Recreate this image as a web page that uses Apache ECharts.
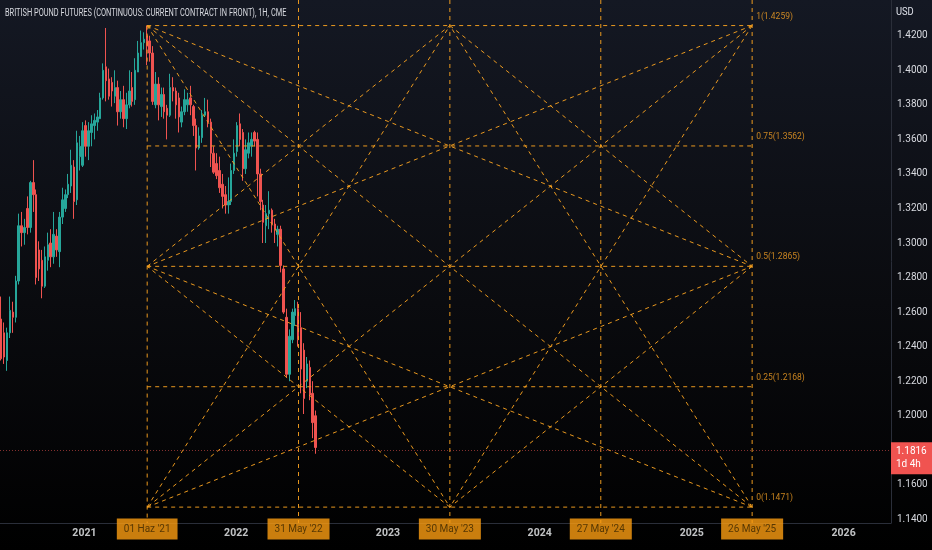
<!DOCTYPE html>
<html>
<head>
<meta charset="utf-8">
<script src="https://cdn.jsdelivr.net/npm/echarts@6/dist/echarts.min.js"></script>
<style>
html,body{margin:0;padding:0;background:#000;}
#c{width:932px;height:550px;}
</style>
</head>
<body>
<div id="c"></div>
<script>
// ---------- DATA ----------
const weeks = [
'2020-06-15','2020-06-22','2020-06-29','2020-07-06','2020-07-13','2020-07-20','2020-07-27','2020-08-03','2020-08-10','2020-08-17',
'2020-08-24','2020-08-31','2020-09-07','2020-09-14','2020-09-21','2020-09-28','2020-10-05','2020-10-12','2020-10-19','2020-10-26',
'2020-11-02','2020-11-09','2020-11-16','2020-11-23','2020-11-30','2020-12-07','2020-12-14','2020-12-21','2020-12-28',
'2021-01-04','2021-01-11','2021-01-18','2021-01-25','2021-02-01','2021-02-08','2021-02-15','2021-02-22','2021-03-01','2021-03-08',
'2021-03-15','2021-03-22','2021-03-29','2021-04-05','2021-04-12','2021-04-19','2021-04-26','2021-05-03','2021-05-10','2021-05-17',
'2021-05-24','2021-05-31','2021-06-07','2021-06-14','2021-06-21','2021-06-28','2021-07-05','2021-07-12','2021-07-19','2021-07-26',
'2021-08-02','2021-08-09','2021-08-16','2021-08-23','2021-08-30','2021-09-06','2021-09-13','2021-09-20','2021-09-27','2021-10-04',
'2021-10-11','2021-10-18','2021-10-25','2021-11-01','2021-11-08','2021-11-15','2021-11-22','2021-11-29','2021-12-06','2021-12-13',
'2021-12-20','2021-12-27',
'2022-01-03','2022-01-10','2022-01-17','2022-01-24','2022-01-31','2022-02-07','2022-02-14','2022-02-21','2022-02-28','2022-03-07',
'2022-03-14','2022-03-21','2022-03-28','2022-04-04','2022-04-11','2022-04-18','2022-04-25','2022-05-02','2022-05-09','2022-05-16',
'2022-05-23','2022-05-30','2022-06-06','2022-06-13','2022-06-20','2022-06-27','2022-07-04','2022-07-11'
];
const openP = [
1.2560,1.2480,1.2320,1.2480,1.2600,1.2570,1.2780,1.3100,1.3060,1.3200,
1.3090,1.3350,1.3280,1.2960,1.2900,1.2750,1.2900,1.3000,1.2920,1.3040,
1.2950,1.3150,1.3200,1.3280,1.3330,1.3440,1.3250,1.3500,1.3450,
1.3680,1.3560,1.3640,1.3680,1.3700,1.3720,1.3840,1.4020,1.3950,1.3930,
1.3850,1.3900,1.3760,1.3830,1.3720,1.3800,1.3900,1.3830,1.3990,1.4080,
1.4160,1.4200,1.4170,1.4100,1.3800,1.3920,1.3790,1.3860,1.3780,1.3740,
1.3900,1.3880,1.3840,1.3700,1.3760,1.3800,1.3840,1.3790,1.3680,1.3550,
1.3610,1.3740,1.3760,1.3700,1.3520,1.3460,1.3420,1.3340,1.3280,1.3220,
1.3240,1.3420,
1.3530,1.3690,1.3640,1.3430,1.3520,1.3560,1.3640,1.3600,1.3400,1.3220,
1.3100,1.3170,1.3190,1.3110,1.3050,1.3080,1.2850,1.2570,1.2240,1.2440,
1.2580,1.2620,1.2510,1.2380,1.2200,1.2280,1.2130,1.2000
];
const closeP = [
1.2330,1.2340,1.2480,1.2610,1.2570,1.2780,1.3100,1.3060,1.3090,1.3090,
1.3350,1.3280,1.2800,1.2850,1.2750,1.2920,1.2990,1.2920,1.3050,1.2960,
1.3150,1.3250,1.3280,1.3340,1.3450,1.3240,1.3580,1.3560,1.3650,
1.3560,1.3650,1.3690,1.3710,1.3730,1.3840,1.4000,1.3940,1.3850,1.3880,
1.3900,1.3760,1.3830,1.3720,1.3800,1.3880,1.3820,1.4000,1.4100,1.4160,
1.4180,1.4140,1.4100,1.3820,1.3920,1.3800,1.3860,1.3760,1.3740,1.3900,
1.3880,1.3800,1.3730,1.3760,1.3830,1.3830,1.3800,1.3680,1.3550,1.3620,
1.3740,1.3760,1.3700,1.3520,1.3410,1.3390,1.3320,1.3270,1.3220,1.3240,
1.3420,1.3520,
1.3680,1.3600,1.3430,1.3540,1.3580,1.3600,1.3590,1.3400,1.3240,1.3120,
1.3170,1.3190,1.3110,1.3080,1.3080,1.2870,1.2600,1.2240,1.2460,1.2600,
1.2620,1.2440,1.2270,1.2100,1.2300,1.2120,1.1960,1.1816
];
const lowP = [
1.2320,1.2300,1.2260,1.2450,1.2480,1.2540,1.2760,1.2980,1.2990,1.3050,
1.3060,1.3180,1.2760,1.2780,1.2680,1.2740,1.2840,1.2860,1.2880,1.2920,
1.2860,1.3110,1.3180,1.3260,1.3290,1.3140,1.3220,1.3420,1.3440,
1.3500,1.3480,1.3560,1.3600,1.3650,1.3720,1.3830,1.3820,1.3830,1.3790,
1.3810,1.3680,1.3720,1.3670,1.3660,1.3780,1.3790,1.3800,1.3990,1.4080,
1.4120,1.4030,1.4050,1.3800,1.3780,1.3710,1.3730,1.3720,1.3600,1.3730,
1.3820,1.3720,1.3640,1.3670,1.3740,1.3760,1.3740,1.3620,1.3420,1.3540,
1.3580,1.3730,1.3670,1.3440,1.3400,1.3370,1.3290,1.3200,1.3170,1.3170,
1.3220,1.3400,
1.3500,1.3560,1.3360,1.3400,1.3490,1.3500,1.3560,1.3270,1.3190,1.3000,
1.3000,1.3080,1.3060,1.3000,1.2980,1.2830,1.2590,1.2220,1.2200,1.2420,
1.2520,1.2400,1.2130,1.2010,1.2160,1.2090,1.1870,1.1780
];
const highP = [
1.2690,1.2540,1.2510,1.2690,1.2660,1.2810,1.3170,1.3180,1.3140,1.3270,
1.3360,1.3480,1.3310,1.3010,1.2960,1.2980,1.3060,1.3080,1.3180,1.3080,
1.3180,1.3320,1.3310,1.3400,1.3540,1.3480,1.3650,1.3620,1.3700,
1.3710,1.3700,1.3740,1.3750,1.3770,1.3870,1.4040,1.4245,1.4010,1.3960,
1.4000,1.3940,1.3880,1.3910,1.3870,1.4000,1.3990,1.4070,1.4170,1.4230,
1.4220,1.4259,1.4200,1.4140,1.3990,1.3960,1.3900,1.3900,1.3800,1.3980,
1.3960,1.3900,1.3870,1.3790,1.3890,1.3870,1.3910,1.3800,1.3720,1.3670,
1.3770,1.3840,1.3830,1.3720,1.3560,1.3520,1.3500,1.3400,1.3330,1.3380,
1.3460,1.3600,
1.3700,1.3750,1.3660,1.3600,1.3640,1.3640,1.3650,1.3640,1.3430,1.3250,
1.3220,1.3300,1.3200,1.3140,1.3100,1.3100,1.2870,1.2620,1.2500,1.2620,
1.2670,1.2660,1.2600,1.2420,1.2340,1.2320,1.2200,1.2030
];
const lastPrice = 1.1816;
const lastPriceText = '1.1816';
const countdownText = '1d 4h';

const yTicks = [1.14,1.16,1.18,1.20,1.22,1.24,1.26,1.28,1.30,1.32,1.34,1.36,1.38,1.40,1.42];
const yearTicks = ['2021-01-01','2022-01-01','2023-01-01','2024-01-01','2025-01-01','2026-01-01'];
const yearLabels = ['2021','2022','2023','2024','2025','2026'];

const gannDates = ['2021-06-01','2022-05-31','2023-05-30','2024-05-27','2025-05-26'];
const gannDateLabels = ["01 Haz '21","31 May '22","30 May '23","27 May '24","26 May '25"];
const gannLevels = [1.1471,1.2168,1.2865,1.3562,1.4259];
const gannRatios = ['0','0.25','0.5','0.75','1'];

const titleText = 'BRITISH POUND FUTURES (CONTINUOUS: CURRENT CONTRACT IN FRONT), 1H, CME';
const currencyText = 'USD';

// ---------- VIEW ----------
const yMin = 1.1379, yMax = 1.4407;
const xMin = '2020-06-12', xMax = '2026-04-25';
const FONT = 'Roboto, "Noto Sans", sans-serif';
const ORANGE = 'rgba(246,160,32,0.95)';

const candleData = weeks.map((d,i)=>[d, openP[i], closeP[i], lowP[i], highP[i]]);

const dashStyle = {color: ORANGE, width: 1, type: [4,4]};
const gannSeries = [];
function seg(p1, p2){
  gannSeries.push({type:'line', data:[p1,p2], symbol:'none', silent:true, animation:false,
    lineStyle: dashStyle, z: 3, clip: false});
}
gannDates.forEach((d,i)=> seg([d, i===0 ? gannLevels[4] : yMax],[d, yMin]));
gannLevels.forEach(lv => seg([gannDates[0], lv],[gannDates[4], lv]));
const fanPairs = [
  [0,4,4,0],[4,4,0,0],
  [0,4,4,2],[0,4,2,0],
  [4,4,0,2],[4,4,2,0],
  [0,0,2,4],[0,0,4,2],
  [4,0,2,4],[4,0,0,2],
  [0,2,2,4],[2,4,4,2],[4,2,2,0],[2,0,0,2]
];
fanPairs.forEach(p => seg([gannDates[p[0]], gannLevels[p[1]]],[gannDates[p[2]], gannLevels[p[3]]]));

const xLabelData = yearTicks.map((d,i)=>({value:[d, yMin], label:{formatter:'{y|' + yearLabels[i] + '}'}}))
  .concat(gannDates.map((d,i)=>({value:[d, yMin], label:{formatter:'{d|' + gannDateLabels[i] + '}'}})));

const chart = echarts.init(document.getElementById('c'), null, {renderer:'canvas'});
chart.setOption({
  animation: false,
  backgroundColor: {type:'linear', x:0, y:0, x2:0, y2:1,
    colorStops:[{offset:0,color:'#141823'},{offset:0.55,color:'#0a0b0f'},{offset:1,color:'#000000'}]},
  textStyle: {fontFamily: FONT},
  graphic: [
    {type:'text', x: 5, y: 8, scaleX: 0.74, z: 10, silent: true,
     style:{text: titleText, fill:'#d8dae0', font: '10px ' + FONT}},
    {type:'text', x: 896, y: 7, scaleX: 0.85, z: 10, silent: true,
     style:{text: currencyText, fill:'#e0e3eb', font: '11px ' + FONT}}
  ],
  grid: {left: 0, right: 41, top: 0, bottom: 27, containLabel: false},
  xAxis: {
    type: 'time', min: xMin, max: xMax,
    axisLine: {show: true, lineStyle: {color: '#2a2e39'}},
    axisTick: {show: false},
    splitLine: {show: false},
    axisLabel: {show: false}
  },
  yAxis: {
    type: 'value', position: 'right', min: yMin, max: yMax, scale: true,
    axisLine: {show: true, lineStyle: {color: '#2a2e39'}},
    axisTick: {show: false},
    splitLine: {show: false},
    axisLabel: {
      customValues: yTicks,
      margin: 6,
      color: '#d8dae0', fontSize: 10, fontFamily: FONT,
      formatter: v => v.toFixed(4)
    }
  },
  series: [
    {
      type: 'candlestick',
      data: candleData,
      encode: {x: 0, y: [1,2,3,4]},
      barWidth: 2,
      itemStyle: {color:'#26a69a', color0:'#ef5350', borderColor:'#26a69a', borderColor0:'#ef5350', borderWidth: 1},
      z: 2,
      markLine: {
        silent: true, symbol: 'none', animation: false,
        lineStyle: {color:'rgba(239,83,80,0.55)', type:[1,2], width: 1},
        data: [{yAxis: lastPrice}],
        label: {
          show: true, position: 'end', distance: 0, offset: [0, 8],
          formatter: lastPriceText + '\n' + countdownText,
          backgroundColor: '#f05350', color: '#ffffff',
          fontSize: 10, lineHeight: 13, padding: [3,3,3,5], width: 33,
          align: 'left', fontFamily: FONT
        }
      }
    },
    ...gannSeries,
    {
      type: 'scatter',
      data: gannLevels.map((lv,i)=>[gannDates[4], lv, i]),
      symbolSize: 0, silent: true, z: 4,
      label: {
        show: true, position: 'right', distance: 4, offset: [0,-9],
        color: '#f5a024', fontSize: 8.5, fontFamily: FONT,
        formatter: p => gannRatios[p.data[2]] + '(' + p.data[1].toFixed(4) + ')'
      }
    },
    {
      type: 'scatter',
      data: xLabelData,
      symbolSize: 0, silent: true, z: 5, clip: false,
      label: {
        show: true, position: 'bottom', distance: 0, align: 'center', verticalAlign: 'top',
        rich: {
          y: {color:'#f0f2f5', fontSize: 10.5, fontWeight:'bold', lineHeight: 12, padding:[8,0,0,0], fontFamily: FONT},
          d: {color:'#3a2600', fontSize: 10, lineHeight: 12, backgroundColor:'#fd9e12', padding:[6,7,5,7], fontFamily: FONT}
        }
      }
    }
  ]
});
</script>
</body>
</html>
